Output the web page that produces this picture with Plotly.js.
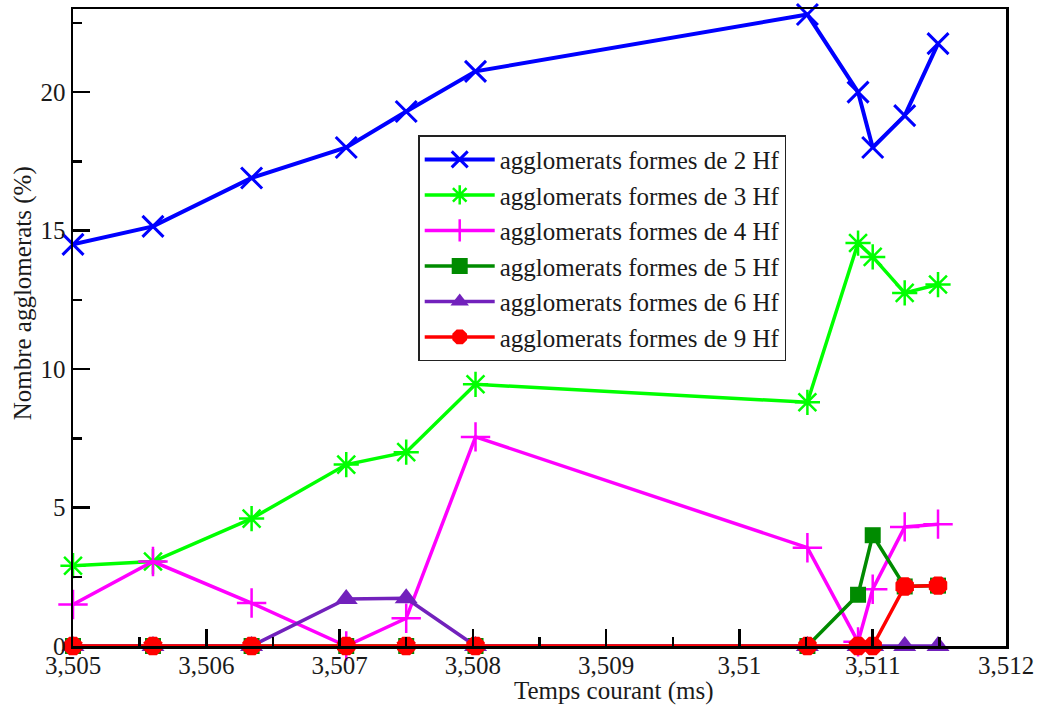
<!DOCTYPE html>
<html>
<head>
<meta charset="utf-8">
<script src="https://cdn.plot.ly/plotly-3.0.1.min.js"></script>
<style>html,body{margin:0;padding:0;background:#fff;}#chart{width:1042px;height:707px;}</style>
</head>
<body>
<div id="chart"></div>
<script>
const time = [3.505, 3.5056, 3.50634, 3.50705, 3.5075, 3.50802, 3.51051, 3.51089, 3.511, 3.51124, 3.51149];
const hf2 = [14.5, 15.15, 16.9, 18.0, 19.3, 20.75, 22.8, 20.0, 18.0, 19.15, 21.75];
const hf3 = [2.9, 3.05, 4.6, 6.55, 7.0, 9.45, 8.8, 14.55, 14.05, 12.75, 13.05];
const hf4 = [1.5, 3.05, 1.55, 0, 1.0, 7.55, 3.55, 0.15, 2.05, 4.3, 4.4];
const hf5 = [0, 0, 0, 0, 0, 0, 0, 1.85, 4.0, 2.15, 2.18];
const hf6 = [0, 0, 0, 1.7, 1.72, 0, 0, 0, 0, 0, 0];
const hf9 = [0, 0, 0, 0, 0, 0, 0, 0, 0, 2.15, 2.18];
const seriesNames = [
  'agglomerats formes de 2 Hf',
  'agglomerats formes de 3 Hf',
  'agglomerats formes de 4 Hf',
  'agglomerats formes de 5 Hf',
  'agglomerats formes de 6 Hf',
  'agglomerats formes de 9 Hf'
];
const xTickVals = [3.505, 3.506, 3.507, 3.508, 3.509, 3.510, 3.511, 3.512];
const xTickText = ['3,505', '3,506', '3,507', '3,508', '3,509', '3,51', '3,511', '3,512'];
const yTickVals = [0, 5, 10, 15, 20];
const xTitle = 'Temps courant (ms)';
const yTitle = 'Nombre agglomerats (%)';

const styles = [
  {color: '#0000ff', symbol: 'x-thin-open', size: 21, lw: 4, mlw: 3},
  {color: '#00ff00', symbol: 'asterisk-open', size: 21, lw: 3.5, mlw: 2.5},
  {color: '#ff00ff', symbol: 'cross-thin-open', size: 21, lw: 3.5, mlw: 2.5},
  {color: '#008b00', symbol: 'square', size: 16, lw: 3.5, mlw: 0},
  {color: '#7221bc', symbol: 'triangle-up', size: 20, lw: 3.5, mlw: 0},
  {color: '#ff0000', symbol: 'octagon', size: 20, lw: 3.5, mlw: 0}
];
const ys = [hf2, hf3, hf4, hf5, hf6, hf9];

const data = ys.map((y, i) => ({
  x: time, y: y, type: 'scatter', mode: 'lines+markers',
  name: seriesNames[i], cliponaxis: false,
  line: {color: styles[i].color, width: styles[i].lw},
  marker: {color: styles[i].color, symbol: styles[i].symbol, size: styles[i].size,
           line: {color: styles[i].color, width: styles[i].mlw}}
}));

const fam = 'Liberation Serif';
const txt = '#1a1a1a';
const layout = {
  width: 1042, height: 707,
  margin: {l: 73, r: 36, t: 9, b: 61},
  paper_bgcolor: '#fff', plot_bgcolor: '#fff',
  showlegend: true,
  font: {family: fam, color: txt, size: 25},
  xaxis: {
    range: [3.505, 3.512], tickvals: xTickVals, ticktext: xTickText,
    ticks: 'inside', ticklen: 17, tickwidth: 2.5, tickcolor: '#000',
    minor: {ticks: 'inside', ticklen: 9, tickwidth: 2.5, tickcolor: '#000', dtick: 0.0005, tick0: 3.505, showgrid: false},
    showline: true, linecolor: '#000', linewidth: 2.5, mirror: true,
    showgrid: false, zeroline: false, ticklabelstandoff: -5,
    tickfont: {size: 25, family: fam, color: txt}
  },
  yaxis: {
    range: [0, 23], tickvals: yTickVals,
    ticks: 'inside', ticklen: 17, tickwidth: 2.5, tickcolor: '#000',
    minor: {ticks: 'inside', ticklen: 9, tickwidth: 2.5, tickcolor: '#000', dtick: 2.5, tick0: 0, showgrid: false},
    showline: true, linecolor: '#000', linewidth: 2.5, mirror: true,
    showgrid: false, zeroline: false,
    tickfont: {size: 25, family: fam, color: txt}
  },
  annotations: [
    {text: xTitle, xref: 'paper', yref: 'paper', x: 0.58, y: -0.0958, xanchor: 'center', yanchor: 'bottom',
     showarrow: false, font: {size: 25, family: fam, color: txt}},
    {text: yTitle, xref: 'paper', yref: 'paper', x: -0.054, y: 0.553, xanchor: 'center', yanchor: 'middle',
     textangle: -90, showarrow: false, font: {size: 25, family: fam, color: txt}}
  ],
  legend: {
    x: 0.37, y: 0.802, xanchor: 'left', yanchor: 'top',
    bgcolor: '#fff', bordercolor: '#222', borderwidth: 1.5,
    font: {size: 25, family: fam, color: txt},
    itemwidth: 70
  }
};
Plotly.newPlot('chart', data, layout, {displayModeBar: false, staticPlot: true});
</script>
</body>
</html>
